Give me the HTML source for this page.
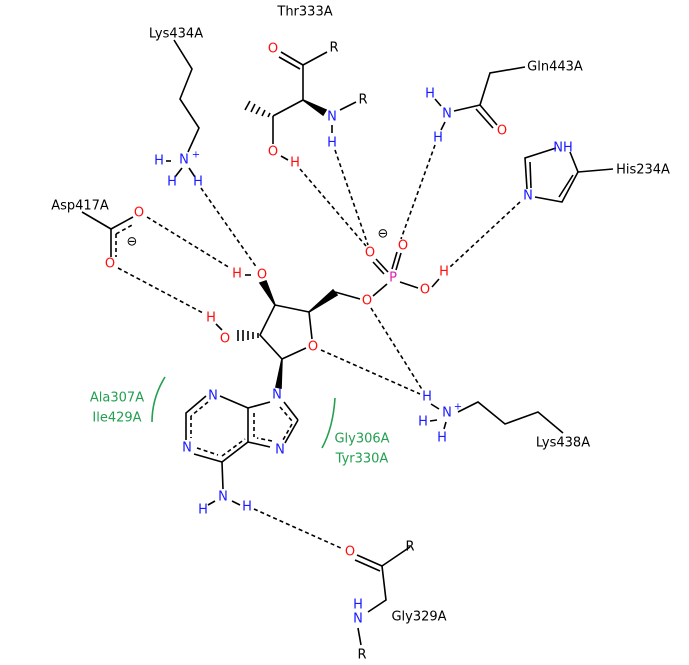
<!DOCTYPE html>
<html><head><meta charset="utf-8"><style>
html,body{margin:0;padding:0;background:#fff}
svg{display:block}
text{font-family:"DejaVu Sans","Liberation Sans",sans-serif;font-size:13px;dominant-baseline:central;text-anchor:middle}
.a{font-size:14px}
.k{fill:#000}.r{fill:#ff0d0d}.b{fill:#1a1aff}.m{fill:#e020b0}.g{fill:#22a050}
line,polyline,path{stroke:#000;stroke-width:1.6;fill:none}
.d{stroke-dasharray:4,3;stroke-width:1.3}
</style></head><body>
<svg width="689" height="665" viewBox="0 0 689 665">
<g class="d">
<line x1="201" y1="188" x2="257" y2="268"/>
<line x1="147" y1="217" x2="230" y2="268"/>
<line x1="118" y1="268" x2="203" y2="313"/>
<line x1="300" y1="169" x2="366" y2="246"/>
<line x1="335" y1="150" x2="368" y2="245"/>
<line x1="435" y1="145" x2="401" y2="239"/>
<line x1="520" y1="202" x2="450" y2="267"/>
<line x1="371" y1="308" x2="423" y2="391"/>
<line x1="321" y1="350" x2="420" y2="394"/>
<line x1="254" y1="509" x2="343" y2="549"/>
</g>
<polyline points="174,40 192,69 180,99 199,128 188,152"/>
<line x1="166" y1="161" x2="171" y2="161"/>
<line x1="182" y1="168" x2="175" y2="177"/>
<line x1="189" y1="168" x2="195" y2="177"/>
<line x1="303" y1="65" x2="327" y2="52"/>
<line x1="281" y1="52" x2="303" y2="65"/><line x1="279" y1="57" x2="300" y2="69"/>
<line x1="303" y1="65" x2="303" y2="100"/>
<path d="M303,100 L326,110 L323,115 Z" style="fill:#000"/>
<line x1="340" y1="110" x2="356" y2="102"/>
<line x1="332" y1="125" x2="332" y2="133"/>
<line x1="303" y1="100" x2="273" y2="116"/>
<g stroke-width="1.2"><line x1="270" y1="113" x2="268" y2="117"/><line x1="265" y1="110" x2="262" y2="116"/><line x1="260" y1="107" x2="256" y2="114"/><line x1="255" y1="104" x2="251" y2="112"/><line x1="250" y1="101" x2="245" y2="110"/></g>
<line x1="273" y1="116" x2="273" y2="144"/>
<line x1="281" y1="156" x2="288" y2="160"/>
<polyline points="525,67 490,73 480,105"/>
<line x1="480" y1="105" x2="454" y2="111"/>
<line x1="480" y1="105" x2="497" y2="125"/><line x1="476" y1="109" x2="493" y2="128"/>
<line x1="435" y1="99" x2="441" y2="106"/>
<line x1="445" y1="122" x2="441" y2="130"/>
<polyline points="570,152 578,172 562,202 535,197"/>
<line x1="573" y1="175" x2="559" y2="197"/>
<polyline points="556,148 525,158 527,189"/>
<line x1="530" y1="162" x2="531" y2="188"/>
<line x1="578" y1="172" x2="613" y2="169"/>
<line x1="82" y1="212" x2="111" y2="229"/>
<line x1="111" y1="229" x2="133" y2="217"/>
<line x1="111" y1="229" x2="111" y2="257"/>
<g class="d"><line x1="116" y1="234" x2="134" y2="224"/><line x1="116" y1="234" x2="116" y2="257"/></g>
<line x1="376" y1="259" x2="388" y2="272"/><line x1="373" y1="262" x2="384" y2="274"/>
<line x1="401" y1="253" x2="396" y2="270"/><line x1="397" y1="252" x2="392" y2="269"/>
<line x1="400" y1="282" x2="418" y2="288"/>
<line x1="432" y1="287" x2="439" y2="279"/>
<line x1="387" y1="284" x2="373" y2="296"/>
<line x1="335" y1="292" x2="360" y2="299"/>
<path d="M309,312 L333,290 L337,295 Z" style="fill:#000"/>
<polyline points="309,312 275,305 260,335 282,359 306,348"/>
<line x1="309" y1="312" x2="312" y2="339"/>
<path d="M275,305 L260,283 L266,281 Z" style="fill:#000"/>
<line x1="245" y1="275" x2="251" y2="275"/>
<g stroke-width="1.2"><line x1="258" y1="333" x2="258" y2="338"/><line x1="253" y1="332" x2="253" y2="339"/><line x1="248" y1="331" x2="248" y2="340"/><line x1="243" y1="330" x2="243" y2="341"/><line x1="238" y1="330" x2="238" y2="341"/></g>
<line x1="222" y1="330" x2="216" y2="324"/>
<path d="M282,359 L276,387 L281,388 Z" style="fill:#000"/>
<polyline points="270,402 248,408 248,442 270,447"/>
<line x1="284" y1="402" x2="298" y2="420"/>
<line x1="298" y1="420" x2="285" y2="443"/>
<line x1="248" y1="408" x2="220" y2="396"/>
<polyline points="206,396 186,413 186,440"/>
<line x1="194" y1="454" x2="222" y2="462"/>
<line x1="222" y1="462" x2="248" y2="442"/>
<line x1="222" y1="462" x2="223" y2="489"/>
<line x1="208" y1="505" x2="215" y2="501"/>
<line x1="232" y1="501" x2="240" y2="505"/>
<g class="d"><line x1="254" y1="413" x2="254" y2="437"/><line x1="280" y1="407" x2="292" y2="421"/><line x1="292" y1="424" x2="283" y2="440"/><line x1="191" y1="416" x2="191" y2="438"/><line x1="208" y1="402" x2="191" y2="416"/><line x1="222" y1="456" x2="245" y2="439"/><line x1="197" y1="448" x2="218" y2="455"/><line x1="272" y1="441" x2="257" y2="438"/></g>
<path d="M165,377 Q152,398 152,422" style="stroke:#22a050"/>
<path d="M335,398 Q333,428 322,448" style="stroke:#22a050"/>
<polyline points="458,412 478,402 505,424 538,412 563,433"/>
<line x1="431" y1="404" x2="439" y2="409"/>
<line x1="430" y1="421" x2="437" y2="420"/>
<line x1="446" y1="422" x2="444" y2="429"/>
<line x1="410" y1="547" x2="382" y2="566"/>
<line x1="357" y1="555" x2="382" y2="566"/><line x1="355" y1="560" x2="380" y2="571"/>
<polyline points="382,566 386,600 368,612"/>
<line x1="358" y1="628" x2="361" y2="645"/>
<text x="305" y="12" class="k">Thr333A</text>
<text x="176" y="34" class="k">Lys434A</text>
<text x="555" y="67" class="k">Gln443A</text>
<text x="643" y="170" class="k">His234A</text>
<text x="80" y="206" class="k">Asp417A</text>
<text x="563" y="443" class="k">Lys438A</text>
<text x="419" y="617" class="k">Gly329A</text>
<text x="117" y="398" class="g">Ala307A</text>
<text x="117" y="418" class="g">Ile429A</text>
<text x="362" y="439" class="g">Gly306A</text>
<text x="362" y="459" class="g">Tyr330A</text>
<g class="a">
<text x="273" y="49" class="r">O</text><text x="334" y="48" class="k">R</text>
<text x="332" y="117" class="b">N</text><text x="363" y="100" class="k">R</text><text x="332" y="143" class="b">H</text>
<text x="273" y="152" class="r">O</text><text x="295" y="163" class="r">H</text>
<text x="159" y="161" class="b">H</text><text x="184" y="160" class="b">N</text><text x="196" y="155" class="b" style="font-size:10px">+</text>
<text x="172" y="182" class="b">H</text><text x="198" y="182" class="b">H</text>
<text x="430" y="94" class="b">H</text><text x="447" y="114" class="b">N</text><text x="438" y="138" class="b">H</text><text x="502" y="131" class="r">O</text>
<text x="563" y="148" class="b">NH</text><text x="528" y="196" class="b">N</text>
<text x="139" y="213" class="r">O</text><text x="110" y="264" class="r">O</text><text x="132" y="242" class="k">⊖</text>
<text x="393" y="278" class="m">P</text><text x="370" y="253" class="r">O</text><text x="403" y="246" class="r">O</text>
<text x="425" y="290" class="r">O</text><text x="444" y="272" class="r">H</text><text x="367" y="301" class="r">O</text><text x="383" y="234" class="k">⊖</text>
<text x="262" y="275" class="r">O</text><text x="237" y="274" class="r">H</text>
<text x="313" y="347" class="r">O</text>
<text x="225" y="339" class="r">O</text><text x="211" y="318" class="r">H</text>
<text x="277" y="395" class="b">N</text><text x="213" y="396" class="b">N</text><text x="187" y="448" class="b">N</text><text x="280" y="450" class="b">N</text>
<text x="223" y="497" class="b">N</text><text x="203" y="510" class="b">H</text><text x="247" y="507" class="b">H</text>
<text x="427" y="397" class="b">H</text><text x="447" y="413" class="b">N</text><text x="458" y="407" class="b" style="font-size:10px">+</text>
<text x="423" y="422" class="b">H</text><text x="442" y="438" class="b">H</text>
<text x="350" y="552" class="r">O</text><text x="410" y="547" class="k">R</text>
<text x="358" y="605" class="b">H</text><text x="358" y="619" class="b">N</text><text x="362" y="655" class="k">R</text>
</g>
</svg>
</body></html>
